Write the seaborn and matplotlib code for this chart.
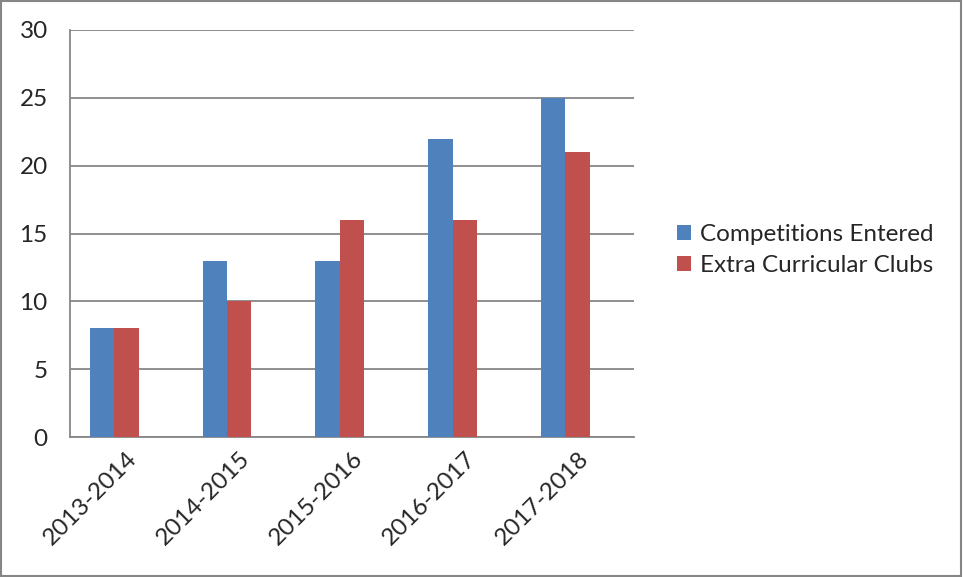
import numpy as np
import pandas as pd
import matplotlib
matplotlib.use("Agg")
import matplotlib.pyplot as plt
import seaborn as sns
from matplotlib.patches import Patch, Rectangle

# Data
years = ["2013-2014", "2014-2015", "2015-2016", "2016-2017", "2017-2018"]
competitions = [8, 13, 13, 22, 25]
clubs = [8, 10, 16, 16, 21]
series_names = ["Competitions Entered", "Extra Curricular Clubs"]
colors = ["#4F81BD", "#C0504D"]

sns.set_style("white")
plt.rcParams['font.family'] = ['Lato', 'DejaVu Sans']

# long table; an empty third series keeps the Excel-style left offset of each pair
df = pd.DataFrame({
    "year": years * 3,
    "series": [series_names[0]] * 5 + [series_names[1]] * 5 + ["_blank"] * 5,
    "value": competitions + clubs + [0] * 5,
})

fig = plt.figure(figsize=(9.63, 5.77), dpi=100)
ax = fig.add_axes([70 / 963, 1 - 437 / 577, 564 / 963, 407 / 577])

sns.barplot(data=df, x="year", y="value", hue="series",
            hue_order=series_names + ["_blank"],
            palette=colors + ["#FFFFFF"], saturation=1, width=0.65, errorbar=None,
            edgecolor="none", ax=ax, legend=False, zorder=3)

grid_c = "#868686"
fs = 17.5
ax.set_ylim(0, 30)
ax.set_yticks(range(0, 31, 5))
ax.set_xlim(-0.5, 4.5)
ax.yaxis.grid(True, color=grid_c, linewidth=1.3, zorder=0)
ax.set_axisbelow(True)
for s in ["top", "right"]:
    ax.spines[s].set_visible(False)
for s in ["left", "bottom"]:
    ax.spines[s].set_color(grid_c)
    ax.spines[s].set_linewidth(1.3)

ax.set_xlabel("")
ax.set_ylabel("")
ax.tick_params(axis="y", length=6, width=1.3, color=grid_c, labelsize=fs, pad=10)
ax.tick_params(axis="x", which="major", length=0, labelsize=fs, pad=8)
ax.set_xticks(np.arange(-0.5, 5, 1), minor=True)
ax.tick_params(axis="x", which="minor", length=6, width=1.3, color=grid_c)
for lab in ax.get_xticklabels():
    lab.set_rotation(45)
    lab.set_ha("right")
    lab.set_rotation_mode("anchor")

handles = [Patch(facecolor=c, edgecolor="none") for c in colors]
fig.legend(handles, series_names, loc="center left",
           bbox_to_anchor=(655 / 963, 1 - 250 / 577), frameon=False,
           fontsize=fs, handlelength=0.6, handleheight=0.6,
           handletextpad=0.35, labelspacing=0.4)

# thin grey border around the whole chart
fig.patches.append(Rectangle((0.001, 0.002), 0.997, 0.996, transform=fig.transFigure,
                             fill=False, edgecolor=grid_c, linewidth=1.5))

fig.savefig("out.png", dpi=100)
